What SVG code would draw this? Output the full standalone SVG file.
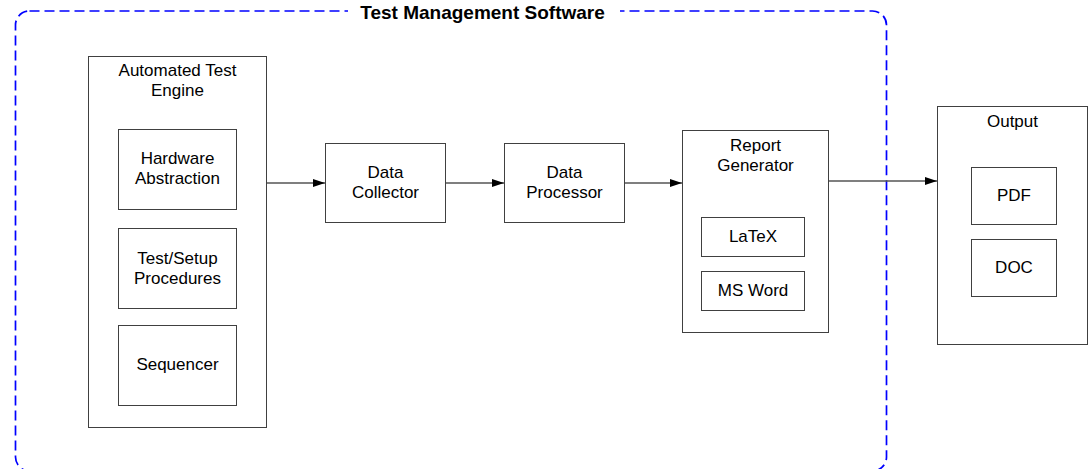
<svg xmlns="http://www.w3.org/2000/svg" width="1089" height="469" viewBox="0 0 1089 469">
<style>
.box{fill:#fff;stroke:#404040;stroke-width:1}
.t{font-family:"Liberation Sans",Arial,sans-serif;font-size:17px;fill:#000;text-anchor:middle}
.title{font-family:"Liberation Sans",Arial,sans-serif;font-size:19px;font-weight:bold;fill:#000;text-anchor:middle}
.con{fill:none;stroke:#555;stroke-width:1.3}
</style>
<defs>
<marker id="arr" markerWidth="12" markerHeight="8" refX="12" refY="4" orient="auto" markerUnits="userSpaceOnUse">
<path d="M0,0 L12,4 L0,8 Z" fill="#000"/>
</marker>
</defs>
<rect width="1089" height="469" fill="#fff"/>
<g id="container">
<rect x="15.5" y="11" width="871" height="460" rx="14" ry="14" fill="none" stroke="#0000ff" stroke-width="1.7" stroke-dasharray="10 5"/>
<rect x="348" y="1" width="272" height="20" fill="#fff"/>
<text class="title" x="482.5" y="19">Test Management Software</text>
</g>
<g id="ate">
<rect class="box" x="88.5" y="56.5" width="178" height="371"/>
<text class="t" x="177.5" y="76">Automated Test</text>
<text class="t" x="177.5" y="96">Engine</text>
</g>
<g id="hw">
<rect class="box" x="118.5" y="129.5" width="118" height="80"/>
<text class="t" x="177.5" y="164">Hardware</text>
<text class="t" x="177.5" y="184">Abstraction</text>
</g>
<g id="procs">
<rect class="box" x="118.5" y="228.5" width="118" height="80"/>
<text class="t" x="177.5" y="263.5">Test/Setup</text>
<text class="t" x="177.5" y="284">Procedures</text>
</g>
<g id="seq">
<rect class="box" x="118.5" y="325.5" width="118" height="80"/>
<text class="t" x="177.5" y="370">Sequencer</text>
</g>
<g id="collector">
<rect class="box" x="325.5" y="143.5" width="120" height="79"/>
<text class="t" x="385.5" y="178">Data</text>
<text class="t" x="385.5" y="198">Collector</text>
</g>
<g id="processor">
<rect class="box" x="504.5" y="143.5" width="120" height="79"/>
<text class="t" x="564.5" y="178">Data</text>
<text class="t" x="564.5" y="198">Processor</text>
</g>
<g id="report">
<rect class="box" x="682.5" y="130.5" width="146" height="202"/>
<text class="t" x="755.5" y="151">Report</text>
<text class="t" x="755.5" y="171">Generator</text>
</g>
<g id="latex">
<rect class="box" x="701.5" y="217.5" width="103" height="39"/>
<text class="t" x="753" y="242">LaTeX</text>
</g>
<g id="msword">
<rect class="box" x="701.5" y="271.5" width="103" height="39"/>
<text class="t" x="753" y="296">MS Word</text>
</g>
<g id="output">
<rect class="box" x="937.5" y="106.5" width="150" height="238"/>
<text class="t" x="1012.5" y="126.5">Output</text>
</g>
<g id="pdf">
<rect class="box" x="971.5" y="167.5" width="85" height="57"/>
<text class="t" x="1014" y="201">PDF</text>
</g>
<g id="doc">
<rect class="box" x="971.5" y="239.5" width="85" height="57"/>
<text class="t" x="1014" y="273">DOC</text>
</g>
<g id="connectors">
<line class="con" x1="267" y1="183" x2="325" y2="183" marker-end="url(#arr)"/>
<line class="con" x1="446" y1="183" x2="504" y2="183" marker-end="url(#arr)"/>
<line class="con" x1="625" y1="183" x2="682" y2="183" marker-end="url(#arr)"/>
<line class="con" x1="829" y1="181" x2="937" y2="181" marker-end="url(#arr)"/>
</g>
</svg>
